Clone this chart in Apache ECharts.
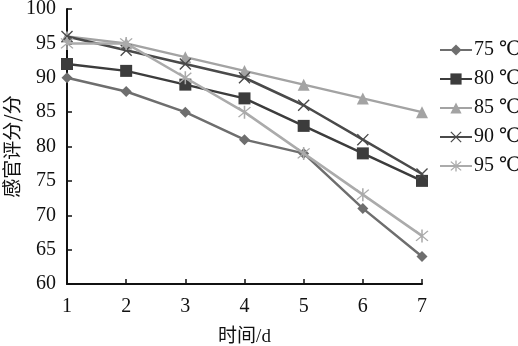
<!DOCTYPE html>
<html><head><meta charset="utf-8">
<script src="https://cdn.jsdelivr.net/npm/echarts@6/dist/echarts.min.js"></script>
<style>html,body{margin:0;padding:0;background:#fff}#c{width:518px;height:346px}</style>
</head><body><div id="c"></div>
<script>
const days = ['1','2','3','4','5','6','7'];
const names = ['75 ℃','80 ℃','85 ℃','90 ℃','95 ℃'];
const s75 = [90, 88, 85, 81, 79, 71, 64];
const s80 = [92, 91, 89, 87, 83, 79, 75];
const s85 = [96, 95, 93, 91, 89, 87, 85];
const s90 = [96, 94, 92, 90, 86, 81, 76];
const s95 = [95, 95, 90, 85, 79, 73, 67];
const yTicks = [60, 100, 5];

const xSym = 'path://M-5,-4.2 L-4.2,-5 L5,4.2 L4.2,5 Z M4.2,-5 L5,-4.2 L-4.2,5 L-5,4.2 Z';
const starSym = 'path://M-5,-4.2 L-4.2,-5 L5,4.2 L4.2,5 Z M4.2,-5 L5,-4.2 L-4.2,5 L-5,4.2 Z M-0.6,-6 L0.6,-6 L0.6,6 L-0.6,6 Z';
const cfg = [
  {d: s75, c: '#6e6e6e', sym: 'diamond', size: 11},
  {d: s80, c: '#3c3c3c', sym: 'rect', size: 12},
  {d: s85, c: '#a3a3a3', sym: 'triangle', size: 12},
  {d: s90, c: '#4a4a4a', sym: xSym, size: 12},
  {d: s95, c: '#ababab', sym: starSym, size: 13}
];
const font = '"Liberation Serif","DejaVu Serif",serif';
const chart = echarts.init(document.getElementById('c'));
chart.setOption({
  animation: false,
  backgroundColor: '#fff',
  grid: {left: 67, right: 96, top: 9, bottom: 62, outerBoundsMode: 'none', containLabel: false},
  legend: {
    orient: 'vertical', left: 434, top: 35, itemGap: 9, itemWidth: 32, itemHeight: 14,
    textStyle: {fontFamily: font, fontSize: 20, color: '#111', padding: [0,0,0,-3]},
    data: names
  },
  xAxis: {
    type: 'category', data: days, boundaryGap: false,
    name: '时间/d', nameLocation: 'middle', nameGap: 44, nameMoveOverlap: false,
    nameTextStyle: {fontFamily: '"Liberation Serif","Noto Sans CJK SC",serif', fontSize: 19, color: '#111'},
    axisLine: {lineStyle: {color: '#111', width: 2}},
    axisTick: {inside: true, length: 5, lineStyle: {color: '#111', width: 1.5}},
    axisLabel: {fontFamily: font, fontSize: 20, color: '#111', margin: 13},
    splitLine: {show: false}
  },
  yAxis: {
    type: 'value', min: yTicks[0], max: yTicks[1], interval: yTicks[2],
    name: '感官评分/分', nameLocation: 'middle', nameGap: 46, nameRotate: 90, nameMoveOverlap: false,
    nameTextStyle: {fontFamily: '"Noto Sans CJK SC",serif', fontSize: 19, color: '#111'},
    axisLine: {show: true, lineStyle: {color: '#111', width: 2}},
    axisTick: {show: true, inside: true, length: 5, lineStyle: {color: '#111', width: 1.5}},
    axisLabel: {fontFamily: font, fontSize: 20, color: '#111', margin: 11},
    splitLine: {show: false}
  },
  series: cfg.map((c, i) => ({
    name: names[i], type: 'line', data: c.d,
    symbol: c.sym, symbolSize: c.size, showSymbol: true,
    lineStyle: {color: c.c, width: 2.5},
    itemStyle: {color: c.c},
    z: 2 + i
  }))
});
</script></body></html>
